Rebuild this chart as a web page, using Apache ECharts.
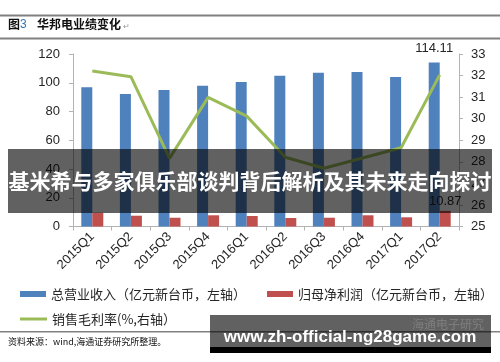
<!DOCTYPE html>
<html>
<head>
<meta charset="utf-8">
<script src="https://cdn.jsdelivr.net/npm/echarts@6/dist/echarts.min.js"></script>
<style>
html,body{margin:0;padding:0;background:#fff;}
#c{width:500px;height:362px;}
</style>
</head>
<body>
<div id="c"></div>
<script>
const categories = ['2015Q1','2015Q2','2015Q3','2015Q4','2016Q1','2016Q2','2016Q3','2016Q4','2017Q1','2017Q2'];
const revenue = [96.8, 92.2, 95.0, 97.9, 100.5, 104.9, 107.0, 107.5, 104.0, 114.11];
const netProfit = [9.6, 7.5, 6.1, 7.8, 7.3, 5.9, 6.1, 7.8, 6.4, 10.87];
const grossMargin = [32.21, 31.95, 28.16, 30.99, 30.12, 28.21, 27.70, 28.18, 28.65, 32.03];
const leftTicks = {min: 0, max: 120, interval: 20};
const rightTicks = {min: 25, max: 33, interval: 1};
const seriesNames = ['总营业收入（亿元新台币，左轴）', '归母净利润（亿元新台币，左轴）', '销售毛利率(%,右轴）'];
const titleText = '华邦电业绩变化';
const sourceText = '资料来源：wind,海通证券研究所整理。';
const bannerText = '基米希与多家俱乐部谈判背后解析及其未来走向探讨';
const urlText = 'www.zh-official-ng28game.com';

const chart = echarts.init(document.getElementById('c'), null, {renderer: 'canvas'});
const cjk = '"Noto Sans CJK SC", "Liberation Sans", sans-serif';
const num = '"Liberation Sans", Arial, sans-serif';
const axisColor = '#b3b3b3';
const txt = '#262626';

const lastIdx = categories.length - 1;
const revData = revenue.map((v, i) => i === lastIdx ? {value: v, label: {show: true, position: 'top', distance: 8, color: txt, fontSize: 13, fontFamily: num}} : v);
const npData = netProfit.map((v, i) => i === lastIdx ? {value: v, label: {show: true, position: 'top', distance: 3, color: txt, fontSize: 13, fontFamily: num}} : v);

chart.setOption({
  animation: false,
  backgroundColor: '#fff',
  grid: {left: 73, right: 41, top: 54, bottom: 135.5, containLabel: false},
  legend: [
    {
      data: [seriesNames[0], seriesNames[1]],
      left: 18, top: 285, width: 482, orient: 'horizontal', padding: 2,
      icon: 'rect', itemWidth: 26, itemHeight: 6, itemGap: 21,
      textStyle: {fontSize: 13, color: txt, fontFamily: cjk, lineHeight: 14}
    },
    {
      data: [seriesNames[2]],
      left: 18, top: 310, width: 300, padding: 2,
      icon: 'rect', itemWidth: 27, itemHeight: 3,
      textStyle: {fontSize: 13, color: txt, fontFamily: cjk, lineHeight: 14}
    }
  ],
  xAxis: {
    type: 'category',
    data: categories,
    boundaryGap: true,
    axisLine: {lineStyle: {color: axisColor, width: 1}},
    axisTick: {show: true, length: 4, lineStyle: {color: axisColor}},
    axisLabel: {rotate: 45, margin: 8, fontSize: 13, color: txt, fontFamily: num},
    splitLine: {show: false}
  },
  yAxis: [
    {
      type: 'value', min: leftTicks.min, max: leftTicks.max, interval: leftTicks.interval,
      axisLine: {show: true, lineStyle: {color: axisColor}},
      axisTick: {show: true, length: 4, lineStyle: {color: axisColor}},
      axisLabel: {margin: 13, fontSize: 13, color: txt, fontFamily: num},
      splitLine: {show: false}
    },
    {
      type: 'value', min: rightTicks.min, max: rightTicks.max, interval: rightTicks.interval,
      position: 'right',
      axisLine: {show: true, lineStyle: {color: axisColor}},
      axisTick: {show: true, length: 4, lineStyle: {color: axisColor}},
      axisLabel: {margin: 12, fontSize: 13, color: txt, fontFamily: num},
      splitLine: {show: false}
    }
  ],
  series: [
    {
      name: seriesNames[0], type: 'bar', yAxisIndex: 0, data: revData,
      barWidth: 11, barGap: '0%',
      itemStyle: {color: '#4f81bd'}
    },
    {
      name: seriesNames[1], type: 'bar', yAxisIndex: 0, data: npData,
      barWidth: 11, barGap: '0%',
      itemStyle: {color: '#c0504d'}
    },
    {
      name: seriesNames[2], type: 'line', yAxisIndex: 1, data: grossMargin,
      showSymbol: false, symbol: 'none',
      lineStyle: {color: '#9bbb59', width: 3},
      itemStyle: {color: '#9bbb59'}
    }
  ],
  graphic: [
    {type: 'rect', z: 50, shape: {x: 0, y: 14.5, width: 500, height: 2}, style: {fill: '#808080'}},
    {type: 'rect', z: 50, shape: {x: 0, y: 37.5, width: 500, height: 2}, style: {fill: '#808080'}},
    {type: 'text', z: 50, left: 8, top: 18, style: {text: '图', font: 'bold 12px ' + cjk, fill: '#111'}},
    {type: 'text', z: 50, left: 20, top: 19, style: {text: '3', font: '12px ' + num, fill: '#2e75b6'}},
    {type: 'text', z: 50, left: 37, top: 18, style: {text: titleText, font: 'bold 12px ' + cjk, fill: '#111'}},
    {type: 'text', z: 50, left: 123, top: 22, style: {text: '↵', font: '8px ' + cjk, fill: '#999'}},
    {type: 'rect', z: 50, shape: {x: 0, y: 331, width: 500, height: 1.5}, style: {fill: '#808080'}},
    {type: 'text', z: 50, left: 8, top: 337, style: {text: sourceText, font: '9px ' + cjk, fill: '#111'}},
    {type: 'rect', z: 100, shape: {x: 8, y: 149, width: 484, height: 64}, style: {fill: 'rgba(0,0,0,0.62)'}},
    {type: 'text', z: 101, x: 250, y: 181, style: {text: bannerText, font: 'bold 21px ' + cjk, fill: '#fff', align: 'center', verticalAlign: 'middle'}},
    {type: 'rect', z: 100, shape: {x: 210, y: 315, width: 281, height: 32}, style: {fill: 'rgba(0,0,0,0.62)'}},
    {type: 'rect', z: 100, shape: {x: 210, y: 347, width: 281, height: 6}, style: {fill: '#000'}},
    {type: 'text', z: 101, x: 448, y: 324, style: {text: '海通电子研究', font: '12px ' + cjk, fill: 'rgba(255,255,255,0.18)', align: 'center', verticalAlign: 'middle'}},
    {type: 'text', z: 102, x: 350, y: 337, style: {text: urlText, font: 'bold 17px "Liberation Sans", Arial, sans-serif', fill: '#fff', align: 'center', verticalAlign: 'middle'}}
  ]
});
</script>
</body>
</html>
